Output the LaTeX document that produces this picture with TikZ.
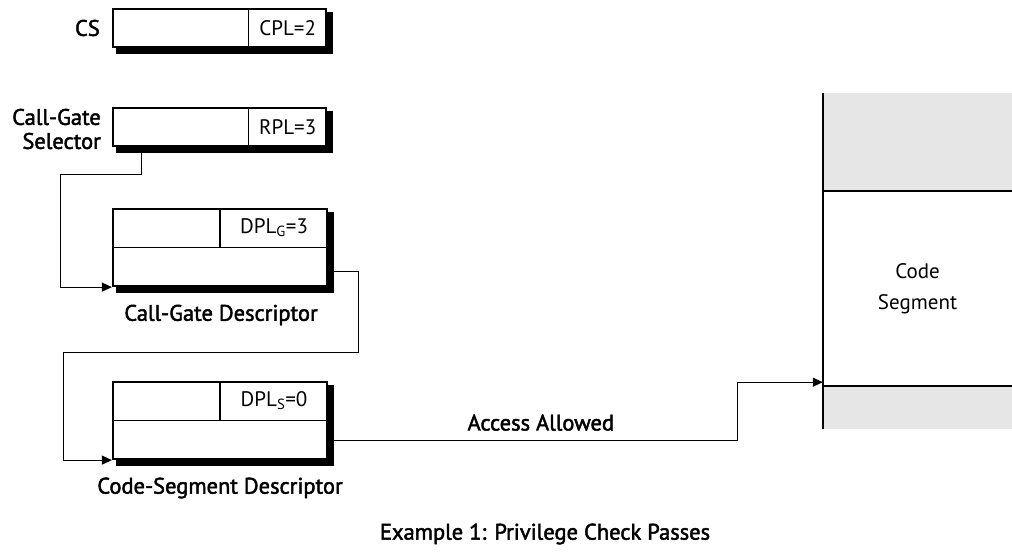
\documentclass[tikz,border=0pt]{standalone}
\usepackage{fontspec}
\setmainfont{PT Sans}
\newfontfamily\semib[FakeBold=2]{PT Sans}
\usetikzlibrary{arrows.meta,calc}
\pgfdeclarelayer{back}
\pgfsetlayers{back,main}
\definecolor{memgray}{RGB}{230,230,230}
\tikzset{
  >={Triangle[length=10pt,width=9pt]},
  every node/.style={font=\fontsize{21}{31}\selectfont,inner sep=0pt},
  reg/.style={draw,line width=2.2pt,fill=white,minimum width=213pt,minimum height=38pt},
  desc/.style={reg,minimum width=214pt,minimum height=77pt},
  lbl/.style={font=\semib\fontsize{22.5}{24}\selectfont},
  sep/.style={line width=1.2pt},
  conn/.style={line width=1.1pt},
  mem/.style={line width=2pt},
}

\begin{document}
\begin{tikzpicture}[x=1pt,y=-1pt]
  \useasboundingbox (0,0) rectangle (1012,552);

  % registers
  \node[reg] (cs)  at (219.5,28)  {};
  \node[reg] (sel) at (219.5,127) {};
  \node[lbl,anchor=east] (cslbl) at (100,28) {CS};
  \node[lbl,anchor=east,align=right] (sellbl) at (101,129) {Call-Gate\\Selector};
  \coordinate (csdiv)  at ($(cs.west)!0.634!(cs.east)$);
  \coordinate (seldiv) at ($(sel.west)!0.634!(sel.east)$);
  \draw[sep] (csdiv |- cs.north) -- (csdiv |- cs.south);
  \draw[sep] (seldiv |- sel.north) -- (seldiv |- sel.south);
  \node (cpl) at ($(csdiv)!0.5!(cs.east)$)   {CPL=2};
  \node (rpl) at ($(seldiv)!0.5!(sel.east)$) {RPL=3};

  % descriptors
  \node[desc] (cgd) at (220,247.5) {};
  \node[desc] (csd) at (220,420.5) {};
  \draw[sep] (cgd.west) -- (cgd.east);
  \draw[sep] (cgd.north) -- (cgd.center);
  \draw[sep] (csd.west) -- (csd.east);
  \draw[sep] (csd.north) -- (csd.center);
  \node (dplg) at ($(cgd.center)!0.5!(cgd.north east)$) {DPL\textsubscript{G}=3};
  \node (dpls) at ($(csd.center)!0.5!(csd.north east)$) {DPL\textsubscript{S}=0};
  \node[lbl] (cgdlbl) at (221,315) {Call-Gate Descriptor};
  \node[lbl] (csdlbl) at (220,488) {Code-Segment Descriptor};

  % shadows
  \begin{pgfonlayer}{back}
    \foreach \b in {cs,sel,cgd,csd}
      \fill ($(\b.north west)+(4,4)$) rectangle ($(\b.south east)+(6,6)$);
  \end{pgfonlayer}

  % memory
  \node[align=center] (seg) at (917.5,288.5) [minimum width=189pt,minimum height=195pt] {Code\\Segment};
  \fill[memgray] ($(seg.north west)+(0,-98)$) rectangle (seg.north east);
  \fill[memgray] (seg.south west) rectangle ($(seg.south east)+(0,43)$);
  \draw[mem] ($(seg.north west)+(0,-98)$) -- ($(seg.south west)+(0,43)$);
  \draw[mem] (seg.north west) -- (seg.north east);
  \draw[mem] (seg.south west) -- (seg.south east);
  \coordinate (segin) at ($(seg.south west)+(0,-4)$);

  % links
  \draw[conn,->] ($(sel.south west)+(30,0)$) |- ++(-81,27) |- (cgd.south west);
  \draw[conn,->] ($(cgd.east)!0.6!(cgd.south east)$) -- ++(30,0) |- ++(-295,81) |- (csd.south west);
  \draw[conn,->] ($(csd.east)!0.5!(csd.south east)$)
    -- node[lbl,pos=0.52,above=9pt] (acc) {Access Allowed} ++(409,0) |- (segin);

  \node[lbl] (cap) at (545,534) {Example 1: Privilege Check Passes};
\end{tikzpicture}
\end{document}
